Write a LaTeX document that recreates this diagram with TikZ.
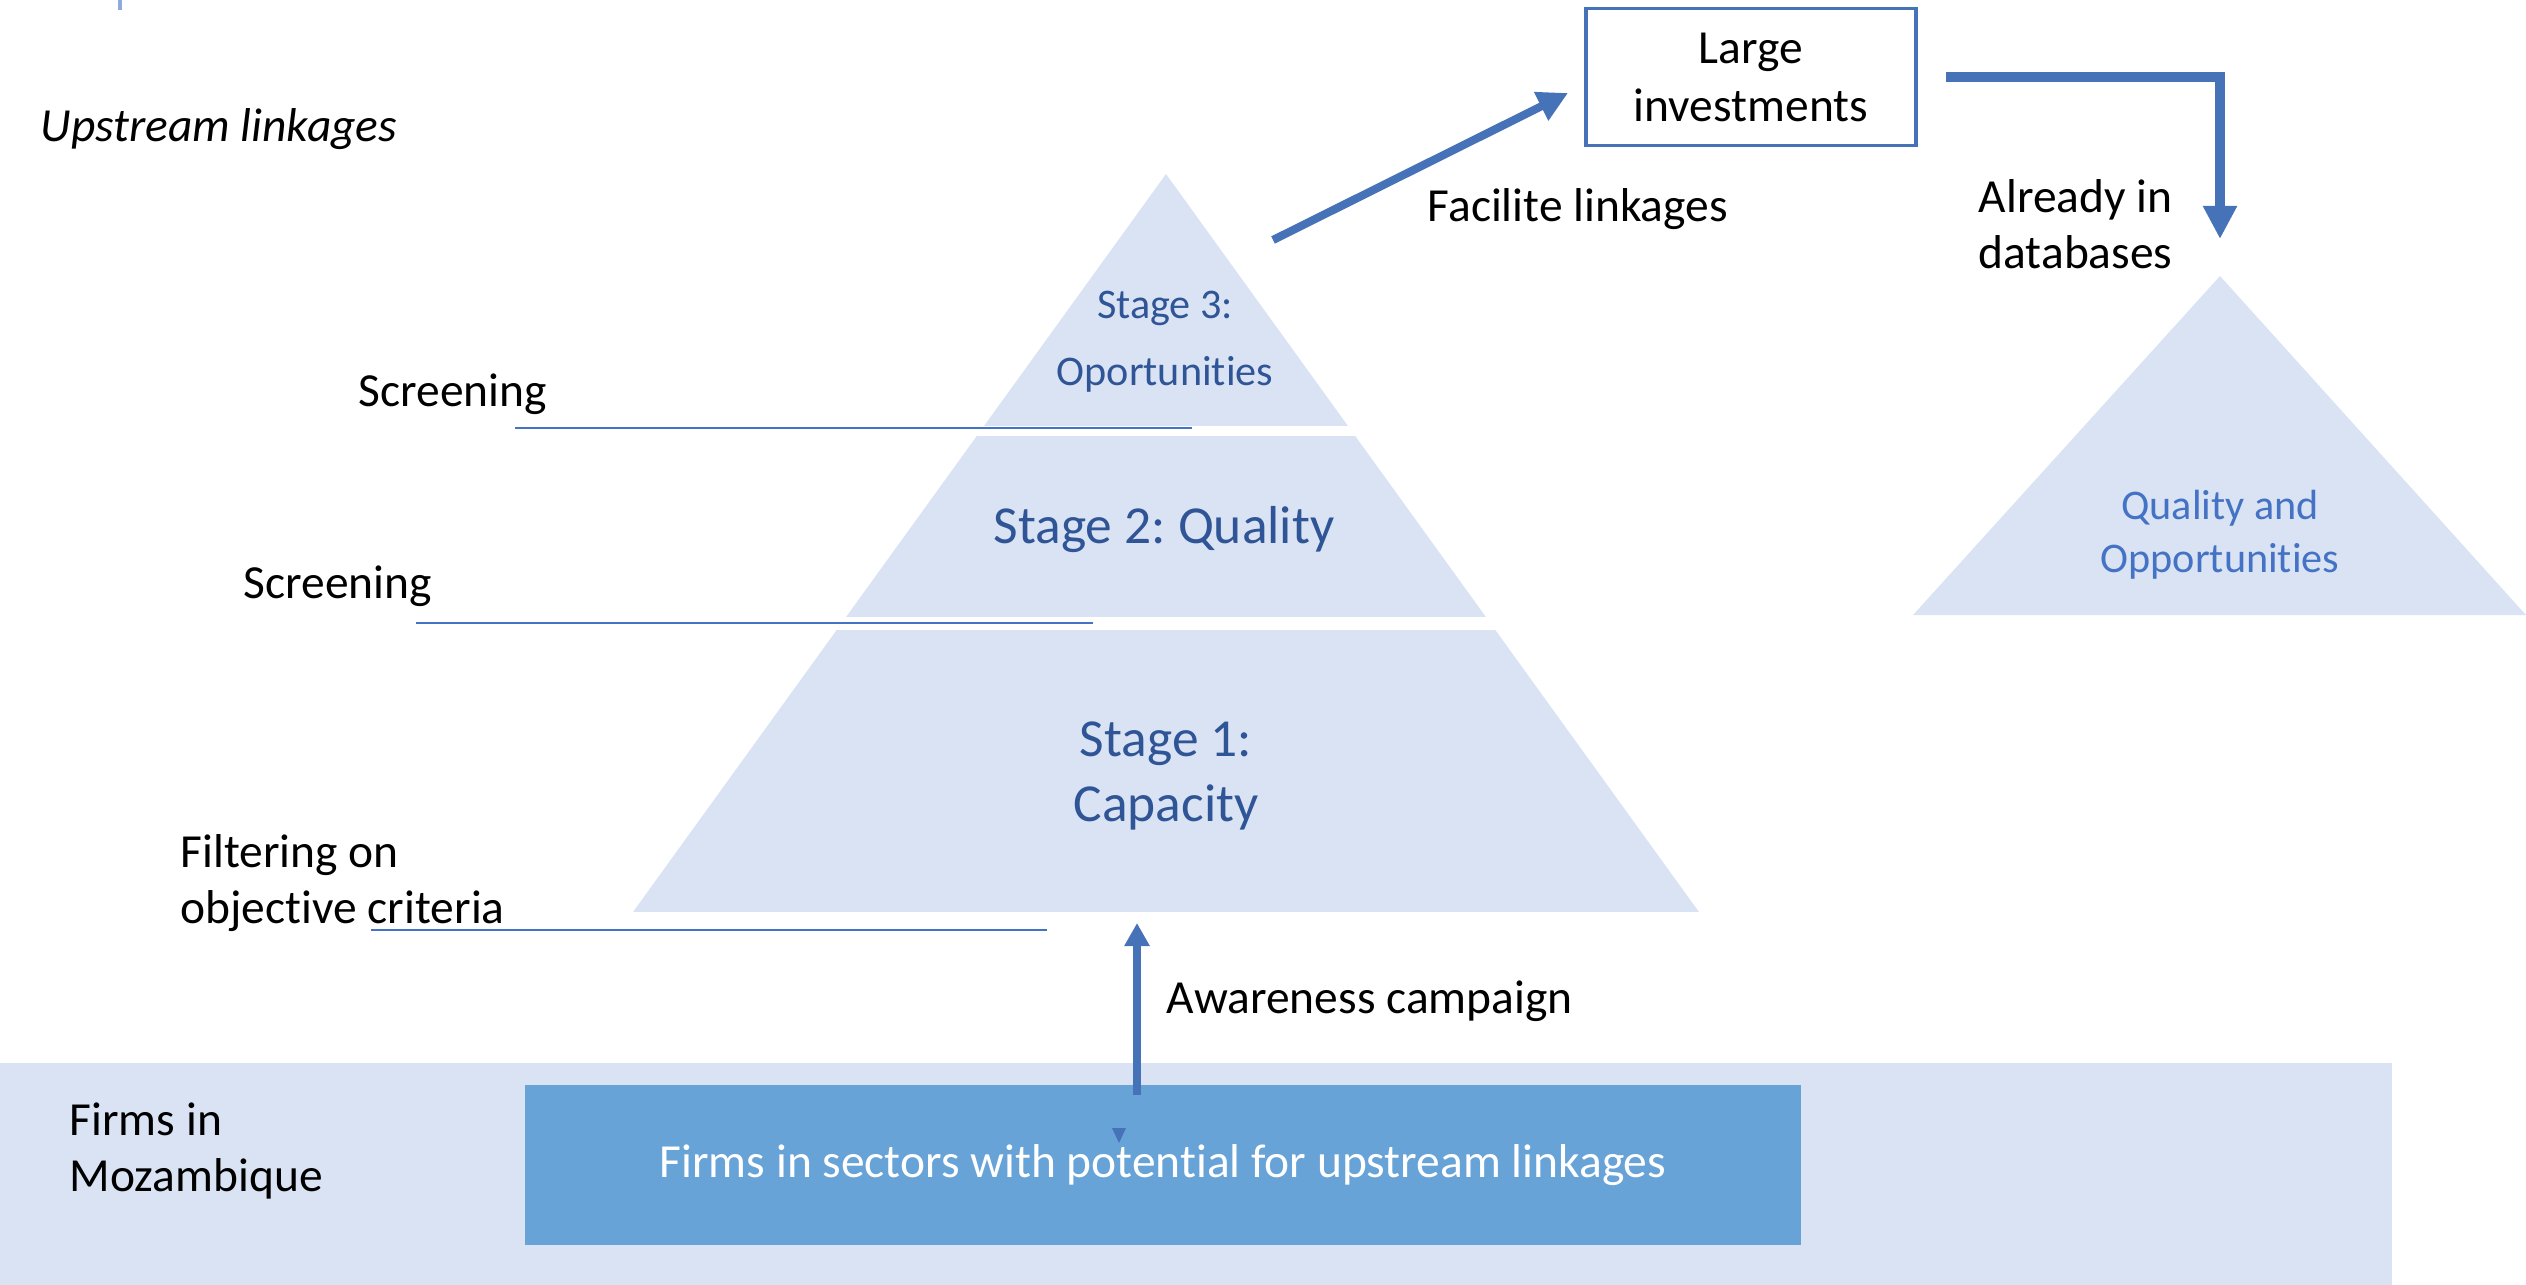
\documentclass[tikz,border=0pt]{standalone}
\usepackage{fontspec}
\setmainfont{Carlito}[Ligatures={NoCommon,NoRare}, Contextuals=NoAlternate]
\frenchspacing
\usetikzlibrary{arrows.meta,positioning}
\definecolor{pale}{RGB}{218,227,243}
\definecolor{sectblue}{RGB}{104,163,216}
\definecolor{arrowblue}{RGB}{70,114,184}
\definecolor{stageblue}{RGB}{47,85,151}
\definecolor{lightblue}{RGB}{68,114,196}
\definecolor{tickblue}{RGB}{143,170,220}
\tikzset{
  lbl/.style={font=\fontsize{13.5}{16}\selectfont, inner sep=0pt, align=left, anchor=west},
  stg/.style={text=stageblue, align=center, inner sep=0pt},
  scrline/.style={draw=lightblue, line width=0.6pt},
  flow/.style={draw=arrowblue, line width=#1},
  flow/.default=2.3pt,
}

\begin{document}
\begin{tikzpicture}[x=0.01cm, y=-0.01cm]
  \useasboundingbox (0,0) rectangle (2526,1285);

  %% ============================================
  %% PYRAMID (left)
  %% ============================================
  \begin{scope}
    \clip (1166,174) -- (633,912) -- (1699,912) -- cycle;
    \fill[pale] (600,150) rectangle (1750,426);
    \fill[pale] (600,436) rectangle (1750,617);
    \fill[pale] (600,630) rectangle (1750,912);
  \end{scope}

  % Stage labels
  \node[stg, font=\fontsize{12}{19}\selectfont] (s3) at (1165,342) {Stage 3:\\Oportunities};
  \node[stg, font=\fontsize{15.2}{17.6}\selectfont] (s2) at (1164,530) {Stage 2: Quality};
  \node[stg, font=\fontsize{15.2}{18.4}\selectfont] (s1) at (1166,776) {Stage 1:\\Capacity};

  % Screening lines
  \draw[scrline] (515,428) -- (1192,428);
  \draw[scrline] (416,623) -- (1093,623);
  \draw[scrline] (371,930) -- (1047,930);

  % Side labels
  \node[lbl, font=\fontsize{13.5}{16}\itshape] (up) at (40,129) {Upstream linkages};
  \node[lbl] (scr1) at (358,394) {Screening};
  \node[lbl] (scr2) at (243,586) {Screening};
  \node[lbl] (filt) at (180,883) {Filtering on\\objective criteria};

  %% ============================================
  %% LARGE INVESTMENTS (top right)
  %% ============================================
  \node[draw=arrowblue, line width=1pt, minimum width=3.3cm, minimum height=1.37cm,
        align=center, font=\fontsize{13.5}{16.5}\selectfont] (inv) at (1751,77) {Large\\investments};

  \coordinate (fls) at (1273,240);
  \coordinate (fle) at (1568,93);
  \draw[flow, -{Triangle[length=0.3cm, width=0.3cm]}] (fls) -- (fle);
  \node[lbl] (fac) at (1427,209) {Facilite linkages};

  % Right triangle
  \fill[pale] (2220,276) -- (1913,615) -- (2526,615) -- cycle;
  \coordinate (qtop) at (2220,276);
  \node[align=center, text=lightblue, inner sep=0pt, font=\fontsize{12}{15}\selectfont] (qo) at (2220,535) {Quality and\\Opportunities};

  \draw[flow=2.9pt, -{Triangle[length=0.33cm, width=0.32cm]}, shorten <=0.28cm, shorten >=0.37cm] (inv.east) -| (qtop);
  \node[lbl] (alr) at (1978,224) {Already in\\databases};

  %% ============================================
  %% FIRMS IN MOZAMBIQUE (bottom)
  %% ============================================
  \fill[pale] (0,1063) rectangle (2392,1285);
  \node[lbl] (moz) at (69,1151) {Firms in\\Mozambique};
  \node[fill=sectblue, minimum width=12.76cm, minimum height=1.6cm, text=white,
        font=\fontsize{13.5}{16}\selectfont] (sect) at (1163,1165) {Firms in sectors with potential for upstream linkages};

  % Awareness arrow
  \coordinate (aw1) at (1137,1095);
  \coordinate (aw2) at (1137,923);
  \draw[flow=2pt, -{Triangle[length=0.23cm, width=0.24cm]}] (aw1) -- (aw2);
  \fill[arrowblue] (1112,1128) -- (1126,1128) -- (1119,1143) -- cycle;
  \node[lbl] (aw) at (1166,1001) {Awareness campaign};

  % Small tick at the top
  \draw[tickblue, line width=1pt] (120,0) -- (120,10);
\end{tikzpicture}
\end{document}
